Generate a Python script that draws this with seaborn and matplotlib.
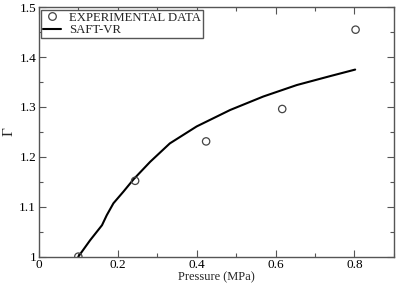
import matplotlib
matplotlib.use("Agg")
import matplotlib.pyplot as plt
import seaborn as sns
import pandas as pd
from matplotlib.ticker import MultipleLocator
from matplotlib.lines import Line2D

exp_pressure = [0.100, 0.244, 0.424, 0.617, 0.803]
exp_gamma = [1.000, 1.152, 1.231, 1.296, 1.455]

saft_pressure = [0.100, 0.130, 0.160, 0.172, 0.189, 0.214, 0.240, 0.282, 0.332, 0.400,
                 0.485, 0.569, 0.654, 0.739, 0.802]
saft_gamma = [1.000, 1.033, 1.063, 1.083, 1.107, 1.130, 1.155, 1.190, 1.227, 1.261,
              1.294, 1.321, 1.344, 1.362, 1.375]

exp_df = pd.DataFrame({"p": exp_pressure, "g": exp_gamma})
saft_df = pd.DataFrame({"p": saft_pressure, "g": saft_gamma})

sns.set_style("ticks")
plt.rcParams["font.family"] = ["Liberation Serif", "DejaVu Serif"]

fig = plt.figure(figsize=(3.97, 2.89), dpi=100)
ax = fig.add_axes([0.098, 0.112, 0.894, 0.863])

sns.lineplot(data=saft_df, x="p", y="g", ax=ax, color="black", linewidth=1.5, sort=False)
sns.scatterplot(data=exp_df, x="p", y="g", ax=ax, marker="o", s=28,
                facecolor="none", edgecolor="#444444", linewidth=0.9, zorder=3)

ax.set_xlim(0, 0.9)
ax.set_ylim(1.0, 1.5)
ax.xaxis.set_major_locator(MultipleLocator(0.2))
ax.xaxis.set_minor_locator(MultipleLocator(0.1))
ax.yaxis.set_major_locator(MultipleLocator(0.1))
ax.yaxis.set_minor_locator(MultipleLocator(0.05))

def fmt(v, pos):
    s = f"{v:.1f}"
    if s.endswith(".0"):
        s = s[:-2]
    return s

ax.xaxis.set_major_formatter(plt.FuncFormatter(fmt))
ax.yaxis.set_major_formatter(plt.FuncFormatter(fmt))

ax.tick_params(which="both", direction="in", top=True, right=True, colors="#555555",
               labelcolor="black", labelsize=9.5, pad=2)
ax.tick_params(which="major", length=5, width=0.8)
ax.tick_params(which="minor", length=3, width=0.8)
for sp in ax.spines.values():
    sp.set_color("#555555")
    sp.set_linewidth(1.0)

ax.set_xlabel("Pressure (MPa)", fontsize=9, labelpad=0)
ax.set_ylabel("Γ", fontsize=11, va="center", ha="center")
ax.yaxis.set_label_coords(-0.083, 0.5)

handles = [
    Line2D([], [], marker="o", linestyle="none", markerfacecolor="none",
           markeredgecolor="#444444", markersize=5.5, markeredgewidth=0.9),
    Line2D([], [], color="black", linewidth=1.5),
]
leg = ax.legend(handles, ["EXPERIMENTAL DATA", "SAFT-VR"], loc="upper left",
                fontsize=9.2, frameon=True, fancybox=False, framealpha=1,
                borderpad=0.15, handlelength=1.4, handletextpad=0.6,
                labelspacing=0.05, borderaxespad=0.2)
leg.get_frame().set_edgecolor("#555555")
leg.get_frame().set_linewidth(1.0)

fig.savefig("out.png", dpi=100)
